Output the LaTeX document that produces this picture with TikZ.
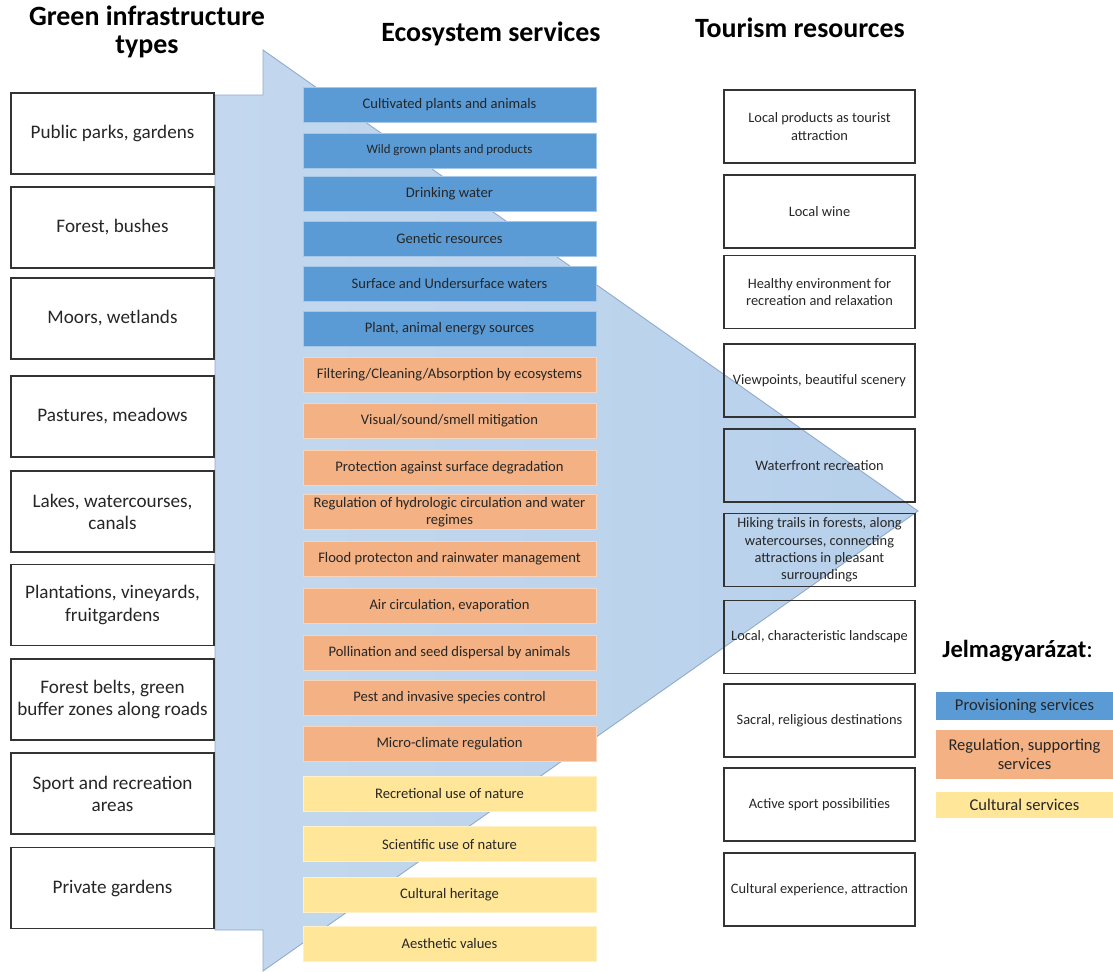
\documentclass[tikz,border=0pt]{standalone}
\usepackage{fontspec}
\setmainfont{Carlito}
\usepackage{xcolor}
\definecolor{provBlue}{HTML}{5B9BD5}
\definecolor{regOrange}{HTML}{F4B183}
\definecolor{cultYellow}{HTML}{FFE699}
\definecolor{arrowEdge}{HTML}{8FAACB}
\definecolor{arrowLeft}{HTML}{C3D8EE}
\definecolor{arrowMid}{HTML}{DFEAF6}
\definecolor{arrowRight}{HTML}{B7D0EB}
\definecolor{boxLine}{HTML}{333333}
\definecolor{txtGray}{HTML}{262626}
\usetikzlibrary{positioning}

\tikzset{
  coltitle/.style={font=\bfseries\fontsize{15.9}{16}\selectfont, align=center, inner sep=0pt},
  gibox/.style={draw=boxLine, line width=0.75pt, fill=white, minimum width=4.06cm,
    minimum height=1.62cm, align=center, inner sep=1pt, text=txtGray,
    font=\fontsize{10.9}{12.6}\selectfont},
  esbox/.style={fill=#1, draw=#1!55!white, line width=0.5pt, minimum width=5.86cm,
    minimum height=0.7cm, align=center, inner sep=1pt, text=txtGray,
    font=\fontsize{8.3}{9.6}\selectfont},
  trbox/.style={draw=boxLine, line width=0.75pt, minimum width=3.82cm,
    minimum height=1.46cm, align=center, inner sep=1pt, text=txtGray,
    font=\fontsize{8.2}{9.9}\selectfont},
  legbox/.style={fill=#1, minimum width=3.54cm, align=center, inner sep=1pt,
    text=txtGray, font=\fontsize{9.4}{11}\selectfont}
}

\begin{document}
\begin{tikzpicture}[x=0.02cm, y=-0.02cm]
  \useasboundingbox (0,0) rectangle (1113,971);

  % big arrow behind the columns
  \shadedraw[draw=arrowEdge, line width=0.5pt, left color=arrowLeft, middle color=arrowMid, right color=arrowRight]
    (215,95) -- (263,95) -- (263,50) -- (918,511) -- (263,971) -- (263,930) -- (215,930) -- cycle;

  % column titles
  \node[coltitle] (giTitle) at (147,32) {Green infrastructure\\types};
  \node[coltitle, anchor=base] (esTitle) at (491,41) {Ecosystem services};
  \node[coltitle, anchor=base] (trTitle) at (800,37) {Tourism resources};

  % green infrastructure types
  \foreach \y/\txt [count=\i] in {133.5/{Public parks, gardens}, 227.5/{Forest, bushes},
      318.5/{Moors, wetlands}, 416.5/{Pastures, meadows}, 511.5/{Lakes, watercourses,\\canals},
      605/{Plantations, vineyards,\\fruitgardens}, 699.5/{Forest belts, green\\buffer zones along roads},
      793.5/{Sport and recreation\\areas}, 888/{Private gardens}}
    \node[gibox] (gi\i) at (112.5,\y) {\txt};

  % ecosystem services
  \foreach \y/\col/\txt [count=\i] in {
      105/provBlue/{Cultivated plants and animals},
      150.5/provBlue/{\fontsize{7.3}{8.5}\selectfont Wild grown plants and products},
      193.5/provBlue/{Drinking water},
      238.5/provBlue/{Genetic resources},
      283.5/provBlue/{Surface and Undersurface waters},
      328.5/provBlue/{Plant, animal energy sources},
      374.5/regOrange/{Filtering/Cleaning/Absorption by ecosystems},
      420.5/regOrange/{Visual/sound/smell mitigation},
      467.5/regOrange/{Protection against surface degradation},
      512/regOrange/{Regulation of hydrologic circulation and water\\regimes},
      558.5/regOrange/{Flood protecton and rainwater management},
      605.5/regOrange/{Air circulation, evaporation},
      652.5/regOrange/{Pollination and seed dispersal by animals},
      698/regOrange/{Pest and invasive species control},
      743.5/regOrange/{Micro-climate regulation},
      793.5/cultYellow/{Recretional use of nature},
      844/cultYellow/{Scientific use of nature},
      895/cultYellow/{Cultural heritage},
      943.5/cultYellow/{Aesthetic values}}
    \node[esbox=\col] (es\i) at (449.5,\y) {\txt};

  % tourism resources
  \foreach \y/\txt [count=\i] in {126.5/{Local products as tourist\\attraction}, 211.5/{Local wine},
      292/{Healthy environment for\\recreation and relaxation}, 380.5/{Viewpoints, beautiful scenery},
      465.5/{Waterfront recreation},
      550/{Hiking trails in forests, along\\watercourses, connecting\\attractions in pleasant\\surroundings},
      637/{Local, characteristic landscape}, 720.5/{Sacral, religious destinations},
      804.5/{Active sport possibilities}, 889.5/{Cultural experience, attraction}}
    \node[trbox] (tr\i) at (819.5,\y) {\txt};

  % legend
  \node[font=\fontsize{14}{16}\selectfont, anchor=west, inner sep=0pt] (legTitle) at (942,651) {\textbf{Jelmagyarázat}:};
  \node[legbox=provBlue, minimum height=0.56cm] (legProv) at (1024.5,706) {Provisioning services};
  \node[legbox=regOrange, minimum height=0.98cm] (legReg) at (1024.5,754.5) {Regulation, supporting\\services};
  \node[legbox=cultYellow, minimum height=0.52cm] (legCult) at (1024.5,805) {Cultural services};
\end{tikzpicture}
\end{document}
